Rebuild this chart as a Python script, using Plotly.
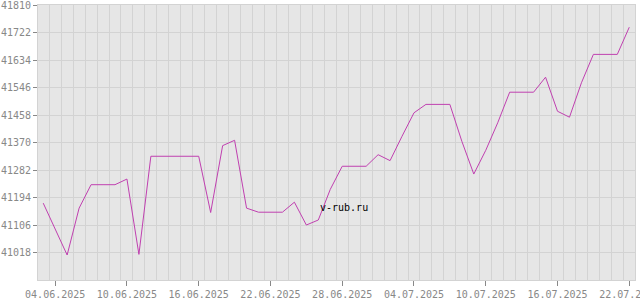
import pandas as pd
import plotly.graph_objects as go

# Data (daily rate values)
dates = [d.strftime("%Y-%m-%d") for d in pd.date_range("2025-06-03", "2025-07-22", freq="D")]
values = [
    41176, 41093, 41010, 41160, 41235, 41235, 41235, 41253, 41012, 41326,
    41326, 41326, 41326, 41326, 41146, 41360, 41377, 41160, 41147, 41147,
    41147, 41179, 41106, 41122, 41220, 41294, 41294, 41294, 41331, 41312,
    41390, 41465, 41492, 41492, 41492, 41374, 41269, 41345, 41433, 41531,
    41531, 41531, 41579, 41470, 41451, 41561, 41652, 41652, 41652, 41739,
]
y_ticks = [41018, 41106, 41194, 41282, 41370, 41458, 41546, 41634, 41722, 41810]
x_ticks = ["2025-06-04", "2025-06-10", "2025-06-16", "2025-06-22", "2025-06-28",
           "2025-07-04", "2025-07-10", "2025-07-16", "2025-07-22"]
x_labels = [pd.Timestamp(t).strftime("%d.%m.%Y") for t in x_ticks]

FONT = "DejaVu Sans Mono"
GRID = "#d3d3d3"
TXT = "#888888"

fig = go.Figure()
fig.add_trace(go.Scatter(
    x=dates, y=values, mode="lines",
    line=dict(color="#c040b0", width=1),
    hoverinfo="skip",
))

fig.update_layout(
    width=640, height=300,
    margin=dict(l=38, r=5, t=5, b=20, pad=0),
    paper_bgcolor="white",
    plot_bgcolor="#e6e6e6",
    showlegend=False,
    font=dict(family=FONT, size=10, color=TXT),
)

fig.update_xaxes(
    type="date",
    range=["2025-06-02 13:30", "2025-07-22 11:30"],
    tickmode="array", tickvals=x_ticks, ticktext=x_labels,
    ticks="outside", ticklen=5, tickcolor=TXT, tickwidth=1,
    showgrid=False,
    minor=dict(tick0="2025-06-02 12:00", dtick=86400000, showgrid=True,
               gridcolor=GRID, gridwidth=1, ticks=""),
    showline=True, mirror=True, linecolor=GRID, linewidth=1,
    zeroline=False,
    ticklabeloverflow="allow",
    tickfont=dict(family=FONT, size=10, color=TXT),
    automargin=False,
)
fig.update_yaxes(
    range=[40930, 41810],
    tickmode="array", tickvals=y_ticks, ticktext=[str(v) for v in y_ticks],
    ticks="outside", ticklen=4, tickcolor=TXT, tickwidth=1,
    showgrid=True, gridcolor=GRID, gridwidth=1,
    showline=True, mirror=True, linecolor=GRID, linewidth=1,
    zeroline=False,
    ticklabeloverflow="allow",
    tickfont=dict(family=FONT, size=10, color=TXT),
    automargin=False,
)

fig.add_annotation(
    text="v-rub.ru", xref="paper", yref="paper", x=0.512, y=0.265,
    showarrow=False, font=dict(family=FONT, size=10, color="black"),
    xanchor="center", yanchor="middle",
)

fig.write_html("out.html", config={"displayModeBar": False})
